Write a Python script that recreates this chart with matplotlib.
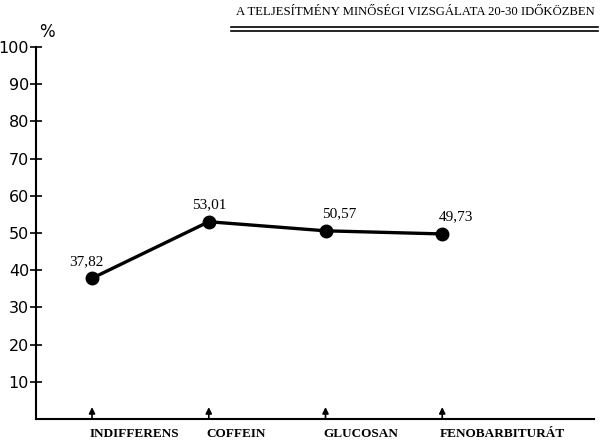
import matplotlib.pyplot as plt
from matplotlib.lines import Line2D

# data (Hungarian decimal comma in labels)
categories = ['INDIFFERENS', 'COFFEIN', 'GLUCOSAN', 'FENOBARBITURÁT']
values = [37.82, 53.01, 50.57, 49.73]
value_labels = ['37,82', '53,01', '50,57', '49,73']
y_ticks = [10, 20, 30, 40, 50, 60, 70, 80, 90, 100]
title = 'A TELJESÍTMÉNY MINŐSÉGI VIZSGÁLATA 20-30 IDŐKÖZBEN'

plt.rcParams['font.family'] = ['Liberation Serif', 'DejaVu Serif']

fig = plt.figure(figsize=(6.0, 4.42), dpi=100)
ax = fig.add_axes([0.06, 0.052, 0.93, 0.842])

x = list(range(len(categories)))
ax.plot(x, values, color='black', lw=2.4, marker='o', ms=9, zorder=3)

offsets = [(-0.05, 2.8), (0.0, 2.8), (0.12, 2.8), (0.12, 2.8)]
for xi, v, lab, (dx, dy) in zip(x, values, value_labels, offsets):
    ax.text(xi + dx, v + dy, lab, ha='center', va='bottom', fontsize=11)

ax.set_xlim(-0.48, 4.3)
ax.set_ylim(0, 100)
ax.set_yticks(y_ticks)
ax.set_yticklabels([str(t) for t in y_ticks], fontsize=11.5, family=['DejaVu Sans'])
ax.tick_params(axis='y', direction='inout', length=8, width=1.2, pad=1)
ax.set_xticks([])

for side in ['top', 'right']:
    ax.spines[side].set_visible(False)
ax.spines['left'].set_linewidth(1.5)
ax.spines['bottom'].set_linewidth(1.5)

# arrows and category labels under the axis
for xi, cat in zip(x, categories):
    ax.annotate('', xy=(xi, 3.2), xytext=(xi, 0),
                arrowprops=dict(arrowstyle='-|>', color='black', lw=1.2,
                                mutation_scale=9, shrinkA=0, shrinkB=0))
    ax.text(xi - 0.02, -2.5, cat, ha='left', va='top', fontsize=9.5,
            fontweight='bold', clip_on=False)

ax.text(-0.45, 101.5, '%', ha='left', va='bottom', fontsize=12,
        family=['DejaVu Sans'], clip_on=False)

# title with double underline
fig.text(0.992, 0.972, title, ha='right', va='center', fontsize=9.2)
fig.add_artist(Line2D([0.385, 0.997], [0.938, 0.938], color='black', lw=1.2))
fig.add_artist(Line2D([0.385, 0.997], [0.930, 0.930], color='black', lw=1.2))

fig.savefig('out.png', dpi=100)
